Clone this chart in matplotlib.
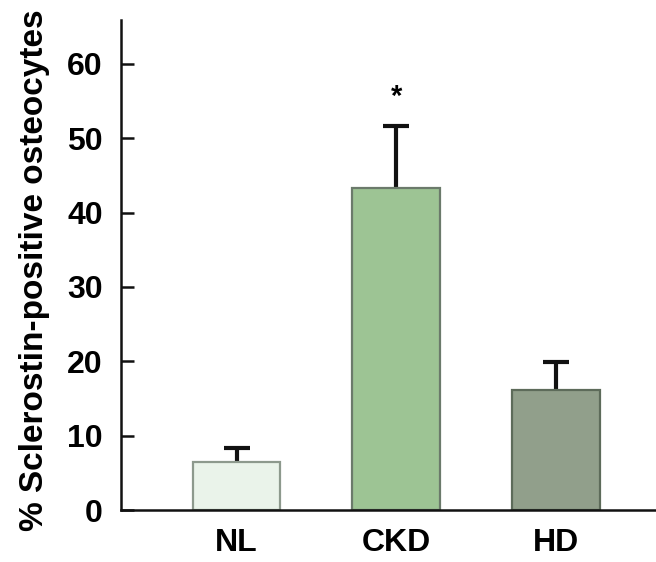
import matplotlib.pyplot as plt

groups = ['NL', 'CKD', 'HD']
means = [6.4, 43.3, 16.1]
errors = [2.0, 8.4, 3.8]
fills = ['#eaf3ea', '#9dc494', '#919f8b']
edges = ['#8d998d', '#6b7a6b', '#5d6b5a']
yticks = [0, 10, 20, 30, 40, 50, 60]

plt.rcParams['font.family'] = ['Liberation Sans', 'DejaVu Sans']

fig = plt.figure(figsize=(6.56, 5.62), dpi=100)
ax = fig.add_axes([0.184, 0.0925, 0.816, 0.872])

x = range(len(groups))
ax.bar(x, means, width=0.55, color=fills, edgecolor=edges, linewidth=1.6, zorder=2)
eb = ax.errorbar(x, means, yerr=[[0] * len(errors), errors], fmt='none', ecolor='#111111',
                 elinewidth=3.0, capsize=9.6, capthick=3.0, zorder=1)
# only the upper caps are shown
eb[1][0].set_visible(False)

# significance mark over CKD
ax.text(1, 55.5, '*', ha='center', va='center', fontsize=21, fontweight='bold')

ax.set_xlim(-0.725, 2.625)
ax.set_ylim(0, 65.9)
ax.set_xticks(list(x))
ax.set_xticklabels(groups, fontsize=23, fontweight='bold')
ax.set_yticks(yticks)
ax.set_yticklabels([str(t) for t in yticks], fontsize=23, fontweight='bold')
ax.tick_params(axis='y', direction='in', length=9.5, width=1.8, pad=13, color='#111111')
ax.tick_params(axis='x', length=0, pad=13)

for side in ['top', 'right']:
    ax.spines[side].set_visible(False)
for side in ['left', 'bottom']:
    ax.spines[side].set_linewidth(1.8)
    ax.spines[side].set_color('#111111')

ax.set_ylabel('% Sclerostin-positive osteocytes', fontsize=24, fontweight='bold')
ax.yaxis.set_label_coords(-0.132, 0.49)

fig.savefig('out.png', dpi=100)
